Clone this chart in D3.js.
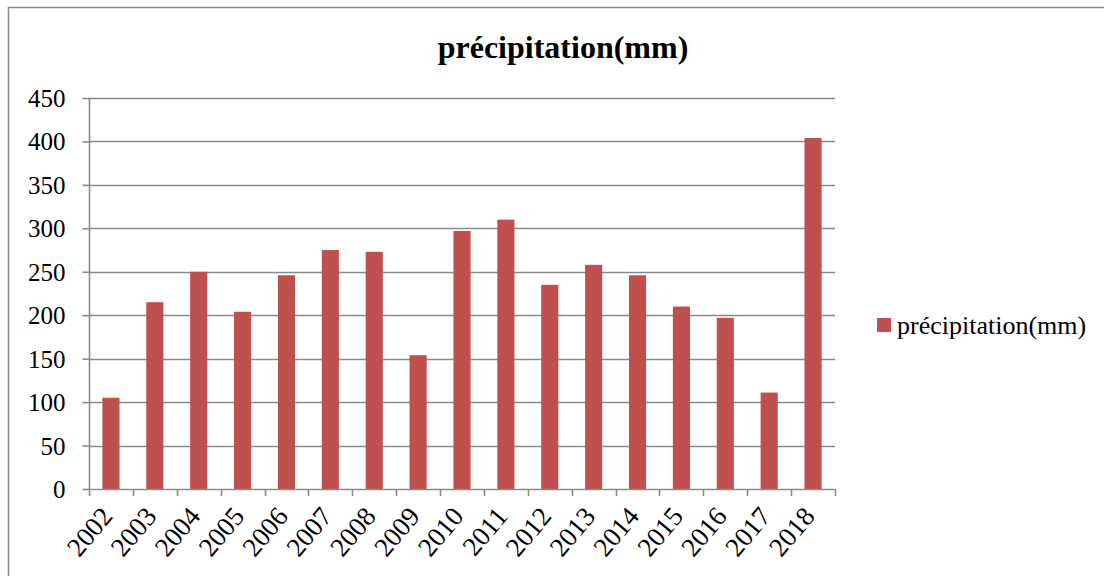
<!DOCTYPE html>
<html>
<head>
<meta charset="utf-8">
<script src="https://cdn.jsdelivr.net/npm/d3@7"></script>
<style>
  html, body { margin: 0; padding: 0; background: #fff; }
  svg { display: block; }
  text { font-family: "Liberation Serif", "Times New Roman", serif; fill: #000; }
</style>
</head>
<body>
<svg id="chart" width="1104" height="576"></svg>
<script>
// Annual precipitation totals
const years = ["2002","2003","2004","2005","2006","2007","2008","2009","2010",
               "2011","2012","2013","2014","2015","2016","2017","2018"];
const precipitation = [105, 215, 250, 204, 246, 275, 273, 154, 297,
                       310, 235, 258, 246, 210, 197, 111, 404];
const yTicks = [0, 50, 100, 150, 200, 250, 300, 350, 400, 450];
const seriesName = "précipitation(mm)";

const W = 1104, H = 576;
const plot = { left: 89, right: 835, top: 98, bottom: 489 };
const gridColor = "#8a8a8a";
const barColor = "#c0504d";

const svg = d3.select("#chart");

// outer frame (only top and left edges fall inside the canvas)
svg.append("path")
  .attr("d", `M8.5,${H} V7.5 H${W}`)
  .attr("fill", "none")
  .attr("stroke", gridColor)
  .attr("stroke-width", 1.5);

const x = d3.scaleBand().domain(years).range([plot.left, plot.right]).paddingInner(0.61).paddingOuter(0.305);
const xTickScale = d3.scaleBand().domain(years).range([plot.left, plot.right]);
const y = d3.scaleLinear().domain([0, 450]).range([plot.bottom, plot.top]);

// horizontal gridlines
svg.append("g")
  .selectAll("line")
  .data(yTicks.filter(d => d > 0))
  .join("line")
  .attr("x1", plot.left).attr("x2", plot.right)
  .attr("y1", d => Math.round(y(d)) + 0.5).attr("y2", d => Math.round(y(d)) + 0.5)
  .attr("stroke", gridColor).attr("stroke-width", 1.6);

// bars
svg.append("g")
  .selectAll("rect")
  .data(years.map((yr, i) => ({ yr, v: precipitation[i] })))
  .join("rect")
  .attr("x", d => x(d.yr))
  .attr("width", x.bandwidth())
  .attr("y", d => y(d.v))
  .attr("height", d => y(0) - y(d.v))
  .attr("fill", barColor);

// y axis
const yAxis = svg.append("g").attr("transform", `translate(${plot.left + 0.5},0)`)
  .call(d3.axisLeft(y).tickValues(yTicks).tickSize(7).tickPadding(17).tickFormat(d3.format("d")));
yAxis.select(".domain").attr("stroke", gridColor).attr("stroke-width", 1.6)
  .attr("d", `M0,${plot.top} V${plot.bottom}`);
yAxis.selectAll(".tick line").attr("stroke", gridColor).attr("stroke-width", 1.6);
yAxis.selectAll(".tick text")
  .attr("font-size", 25)
  .attr("fill", "#000")
  .attr("dy", "0.34em");

// x axis: ticks at category boundaries
const boundaries = years.map(d => xTickScale(d)).concat([plot.right]);
const xAxis = svg.append("g");
xAxis.append("line")
  .attr("x1", plot.left).attr("x2", plot.right)
  .attr("y1", plot.bottom + 0.5).attr("y2", plot.bottom + 0.5)
  .attr("stroke", gridColor).attr("stroke-width", 1.6);
xAxis.selectAll("line.tk")
  .data(boundaries)
  .join("line").attr("class", "tk")
  .attr("x1", d => Math.round(d) + 0.5).attr("x2", d => Math.round(d) + 0.5)
  .attr("y1", plot.bottom).attr("y2", plot.bottom + 7)
  .attr("stroke", gridColor).attr("stroke-width", 1.6);

// rotated year labels
xAxis.selectAll("text")
  .data(years)
  .join("text")
  .attr("text-anchor", "end")
  .attr("font-size", 27)
  .attr("transform", d => `translate(${x(d) + x.bandwidth() / 2 + 3},${plot.bottom + 28}) rotate(-50)`)
  .text(d => d);

// title
svg.append("text")
  .attr("text-anchor", "middle")
  .attr("font-size", 32)
  .attr("font-weight", "bold")
  .attr("x", 563).attr("y", 58)
  .text(seriesName);

// legend
const legend = svg.append("g").attr("transform", "translate(877,318)");
legend.append("rect").attr("width", 14).attr("height", 14).attr("fill", barColor);
legend.append("text")
  .attr("font-size", 26)
  .attr("x", 20).attr("y", 16)
  .text(seriesName);
</script>
</body>
</html>
